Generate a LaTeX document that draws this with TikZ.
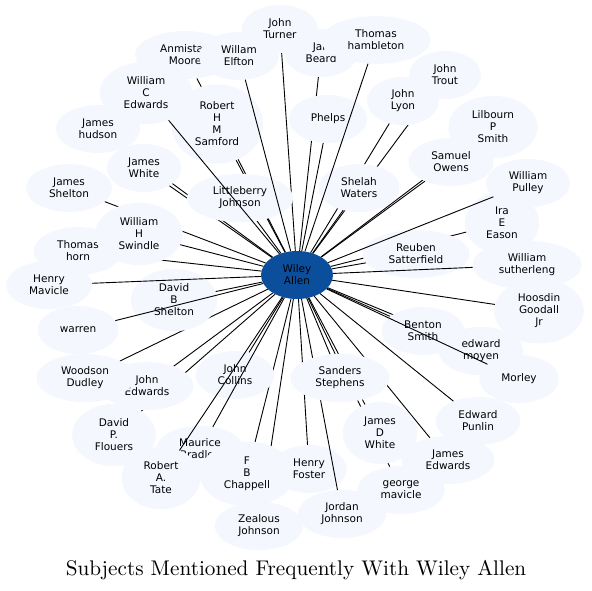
\documentclass[tikz,border=0pt]{standalone}
\usepackage{fontspec}
\newfontfamily\dejavu{DejaVu Sans}
\newfontfamily\titlefont[Extension=.otf]{lmroman10-regular}
\usetikzlibrary{shapes.geometric}
\definecolor{cSubj}{HTML}{F4F8FE}
\definecolor{cWiley}{HTML}{0B4F9C}
\pgfdeclarelayer{edgelow}
\pgfdeclarelayer{nodelow}
\pgfdeclarelayer{edgehigh}
\pgfsetlayers{edgelow,nodelow,edgehigh,main}
\tikzset{
    subj/.style={ellipse, fill=cSubj, draw=none, inner xsep=10.5pt,
                 inner ysep=6pt, minimum width=72pt, minimum height=48pt,
                 outer sep=0pt, align=center,
                 font=\dejavu\fontsize{10.5}{12}\selectfont},
    wiley/.style={subj, fill=cWiley},
    link/.style={line width=0.9pt, black},
    title/.style={font=\titlefont\fontsize{21.2}{25}\selectfont,
                  anchor=base, inner sep=0pt},
}

\begin{document}
\begin{tikzpicture}[x=1pt, y=-1pt]
    \useasboundingbox (0,0) rectangle (592,590);

    % people around Wiley Allen
    \begin{pgfonlayer}{nodelow}
    \foreach \nm/\px/\py/\txt in {
        moore/185/55/{Anmistad\\Moore}, beard/321/53/{Jar.\\Beard},
        horn/78/251/{Thomas\\horn}, jedwards/147/386/{John\\Edwards},
        bradley/200/450/{Maurice\\Bradley}, turner/280/29/{John\\Turner},
        elfton/239/56/{Willam\\Elfton}, hambleton/376/40/{Thomas\\hambleton},
        trout/445/75/{John\\Trout}, lyon/403/101/{John\\Lyon},
        phelps/328/119/{Phelps}, wcedwards/146/93/{William\\C\\Edwards},
        samford/217/124/{Robert\\H\\M\\Samford}, hudson/98/129/{James\\hudson},
        lpsmith/493/127/{Lilbourn\\P\\Smith}, owens/451/162/{Samuel\\Owens},
        jwhite/144/168/{James\\White}, waters/359/188/{Shelah\\Waters},
        pulley/528/183/{William\\Pulley}, jshelton/69/188/{James\\Shelton},
        ljohnson/240/198/{Littleberry\\Johnson}, eason/502/223/{Ira\\E\\Eason},
        swindle/139/234/{William\\H\\Swindle},
        satterfield/416/254/{Reuben\\Satterfield},
        sutherleng/527/265/{William\\sutherleng},
        hmavicle/49/285/{Henry\\Mavicle}, dbshelton/174/300/{David\\B\\Shelton},
        goodall/539/311/{Hoosdin\\Goodall\\Jr}, warren/78/330/{warren},
        bsmith/423/331/{Benton\\Smith}, moyen/481/351/{edward\\moyen},
        morley/519/379/{Morley}, dudley/85/378/{Woodson\\Dudley},
        collins/235/375/{John\\Collins}, punlin/478/421/{Edward\\Punlin},
        jdwhite/380/433/{James\\D\\White}, flouers/114/435/{David\\P.\\Flouers},
        jaedwards/448/460/{James\\Edwards}, tate/161/478/{Robert\\A.\\Tate},
        chappell/247/474/{F\\B\\Chappell}, foster/309/469/{Henry\\Foster},
        gmavicle/401/490/{george\\mavicle}, jjohnson/342/514/{Jordan\\Johnson},
        zjohnson/259/526/{Zealous\\Johnson}} {
        \node[subj] (\nm) at (\px,\py) {\txt};
    }
    \end{pgfonlayer}
    \node[subj] (stephens) at (340,378) {Sanders\\Stephens};
    \node[wiley] (wa) at (297,275) {Wiley\\Allen};

    % links, most of them under the ellipses
    \begin{pgfonlayer}{edgelow}
    \foreach \nm in {moore, beard, horn, jedwards, turner, trout, lyon,
        phelps, samford, hudson, lpsmith, owens, jwhite, waters,
        jshelton, ljohnson, eason, swindle, satterfield, dbshelton, goodall,
        bsmith, moyen, dudley, collins, stephens, punlin, jdwhite, flouers,
        jaedwards, chappell, foster, gmavicle, zjohnson}
        \draw[link] (wa) -- (\nm);
    \end{pgfonlayer}
    \begin{pgfonlayer}{edgehigh}
    \foreach \nm in {wcedwards, elfton, hambleton, hmavicle, warren, morley,
        tate, bradley, jjohnson, sutherleng, pulley}
        \draw[link] (wa) -- (\nm);
    \end{pgfonlayer}

    \node[title] (ttl) at (296,575)
        {Subjects Mentioned Frequently With Wiley Allen};
\end{tikzpicture}
\end{document}
